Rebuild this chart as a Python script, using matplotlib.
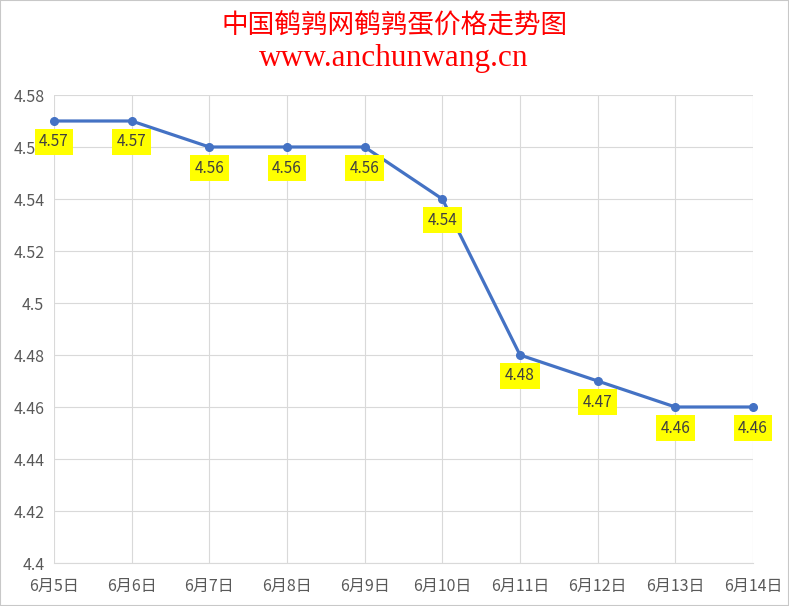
import matplotlib
matplotlib.use("Agg")
import matplotlib.pyplot as plt
from matplotlib.patches import Rectangle

dates = ["6月5日", "6月6日", "6月7日", "6月8日", "6月9日", "6月10日", "6月11日", "6月12日", "6月13日", "6月14日"]
prices = [4.57, 4.57, 4.56, 4.56, 4.56, 4.54, 4.48, 4.47, 4.46, 4.46]
yticks = [4.4, 4.42, 4.44, 4.46, 4.48, 4.5, 4.52, 4.54, 4.56, 4.58]
ytick_labels = ["4.4", "4.42", "4.44", "4.46", "4.48", "4.5", "4.52", "4.54", "4.56", "4.58"]

plt.rcParams['font.family'] = ['Noto Sans CJK SC', 'DejaVu Sans']

fig = plt.figure(figsize=(7.89, 6.06), dpi=100)
ax = fig.add_axes([54/789, 1-563/606, (753-54)/789, (563-95)/606])

x = list(range(len(dates)))
ax.plot(x, prices, color="#4472C4", linewidth=2.3, marker="o", markersize=5.5, zorder=3, clip_on=False)

for xi, p in zip(x, prices):
    ax.annotate(f"{p:.2f}", (xi, p), xytext=(0, -21), textcoords="offset pixels",
                ha="center", va="center", fontsize=11, color="#404040",
                bbox=dict(boxstyle="square,pad=0.3", facecolor="#FFFF00", edgecolor="none"), zorder=4)

ax.set_xlim(0, len(dates) - 1)
ax.set_ylim(4.4, 4.58)
ax.set_yticks(yticks)
ax.set_yticklabels(ytick_labels)
ax.set_xticks(x)
ax.set_xticklabels(dates)
ax.tick_params(axis="both", length=0, labelsize=11.5, colors="#595959")
ax.tick_params(axis="x", pad=10.5)
ax.tick_params(axis="y", pad=7)
ax.grid(True, color="#D9D9D9", linewidth=0.8)
ax.set_axisbelow(True)
for s in ["top", "right", "left"]:
    ax.spines[s].set_visible(False)
ax.spines["bottom"].set_color("#D9D9D9")
ax.spines["bottom"].set_linewidth(0.8)

fig.text(395/789, 1-26/606, "中国鹌鹑网鹌鹑蛋价格走势图", ha="center", va="center",
         fontsize=19.2, color="#FF0000")
fig.text(394/789, 1-66/606, "www.anchunwang.cn", ha="center", va="baseline",
         fontsize=22.5, color="#FF0000", family="Liberation Serif")

fig.patches.append(Rectangle((0, 0), 1, 1, transform=fig.transFigure, fill=False,
                             edgecolor="#C8C8C8", linewidth=1.5))

fig.savefig("out.png", dpi=100)
